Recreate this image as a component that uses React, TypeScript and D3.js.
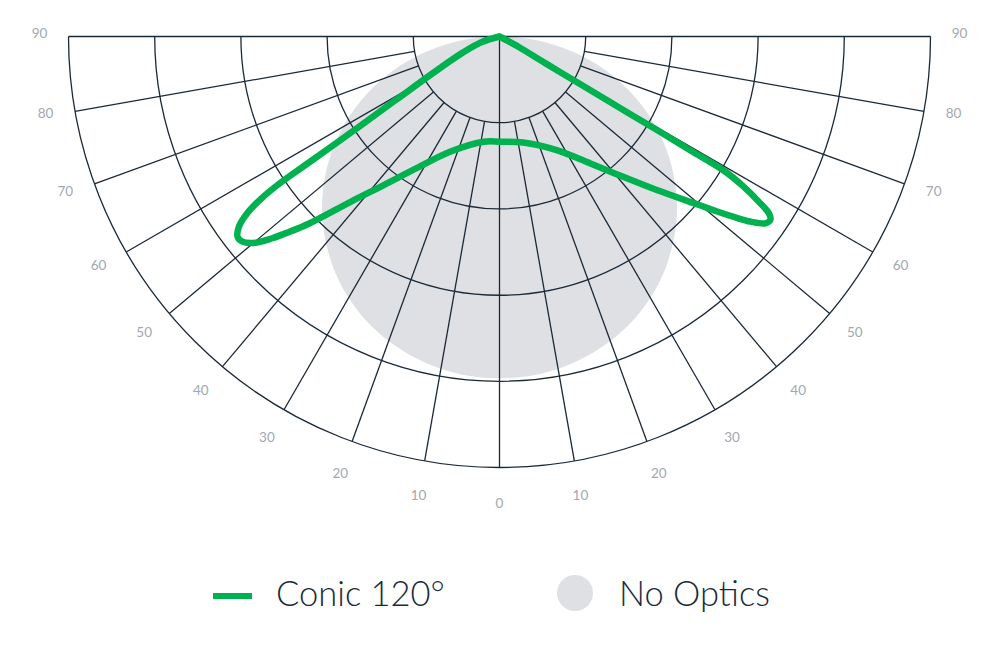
import React from 'react';
import * as d3 from 'd3';

// ---- data ----
const RING_VALUES = [20, 40, 60, 80, 100];
const SPOKE_ANGLES = [10, 20, 30, 40, 50, 60, 70, 80];
const LABEL_ANGLES = [0, 10, 20, 30, 40, 50, 60, 70, 80, 90];

// "No Optics" relative intensity (0..100 = outer ring), 0..90 deg, symmetric
const NO_OPTICS_ANGLES = [0, 5, 10, 15, 20, 25, 30, 35, 40, 45, 50, 55, 60, 65, 70, 75, 80, 85, 90];
const NO_OPTICS_VALUES = [79.3, 79.1, 78.3, 77.0, 75.2, 72.9, 70.0, 66.6, 62.6, 58.2, 53.2, 47.8, 41.9, 35.6, 29.0, 22.0, 14.8, 7.4, 0];

// "Conic 120°": signed angle (left negative) and relative intensity
const CONIC_ANGLES = [
  -90, -72.6, -66.3, -62.1, -58.5, -57.1, -56.5, -56.25, -55.8, -55.0, -53.9, -52.6, -51.4,
  -49.8, -48.4, -47.1, -45.5, -42.0, -37.9, -32.2, -23.0, -8.5, 0,
  12.6, 26.7, 35.5, 41.4, 45.7, 49.9, 51.2, 52.4, 53.6, 54.9, 55.9, 56.7, 57.5, 58.4, 59.1,
  59.2, 59.3, 59.3, 59.4, 59.6, 59.9, 61.5, 90,
];
const CONIC_VALUES = [
  0, 4.3, 9.3, 15.6, 28.3, 41.0, 53.7, 61.3, 66.6, 71.4, 74.8, 76.5, 76.3,
  74.1, 70.5, 66.6, 61.9, 51.6, 43.7, 36.1, 29.0, 24.7, 24.4,
  25.2, 29.5, 36.1, 43.4, 51.0, 60.8, 64.8, 68.6, 72.4, 75.4, 75.9, 74.8, 71.3, 66.5, 61.1,
  51.5, 42.4, 33.4, 24.4, 15.8, 10.9, 5.2, 0,
];

const LEGEND_LABELS = ['Conic 120°', 'No Optics'];

// ---- layout/style ----
const W = 1000;
const H = 650;
const CX = 499.5;
const CY = 36.5;
const R = 431;
const GRID = '#1b2937';
const GREEN = '#00b14f';
const GRAY = '#dee0e3';
const LABEL = '#a1a8af';
const TEXT = '#1b2a3b';

const rScale = d3.scaleLinear().domain([0, 100]).range([0, R]);
const rad = (deg: number) => (deg * Math.PI) / 180;
const polar = (deg: number, r: number): [number, number] => [
  CX + r * Math.sin(rad(deg)),
  CY + r * Math.cos(rad(deg)),
];

export default function App() {
  // No optics shape (mirrored)
  const noOptPts: [number, number][] = [];
  for (let i = NO_OPTICS_ANGLES.length - 1; i >= 0; i--) {
    noOptPts.push(polar(-NO_OPTICS_ANGLES[i], rScale(NO_OPTICS_VALUES[i])));
  }
  for (let i = 1; i < NO_OPTICS_ANGLES.length - 1; i++) {
    noOptPts.push(polar(NO_OPTICS_ANGLES[i], rScale(NO_OPTICS_VALUES[i])));
  }
  const noOptPath = d3.line().curve(d3.curveCatmullRomClosed.alpha(0.5))(noOptPts) || '';

  const conicPts: [number, number][] = CONIC_ANGLES.map((a, i) => polar(a, rScale(CONIC_VALUES[i])));
  const conicPath = d3.line().curve(d3.curveCatmullRom.alpha(0.5))(conicPts) || '';

  const rings = RING_VALUES.map((v) => {
    const p = d3.path();
    const r = rScale(v);
    p.arc(CX, CY, r, 0, Math.PI, false);
    return p.toString();
  });

  const innerR = rScale(RING_VALUES[0]);
  const spokes: { x1: number; y1: number; x2: number; y2: number }[] = [];
  SPOKE_ANGLES.forEach((a) => {
    [-1, 1].forEach((s) => {
      const [x1, y1] = polar(s * a, innerR);
      const [x2, y2] = polar(s * a, R);
      spokes.push({ x1, y1, x2, y2 });
    });
  });
  const [vx2, vy2] = polar(0, R);
  const [hx1, hy1] = polar(-90, R);
  const [hx2, hy2] = polar(90, R);

  const labels: { x: number; y: number; t: string }[] = [];
  LABEL_ANGLES.forEach((a) => {
    const sides = a === 0 ? [1] : [-1, 1];
    sides.forEach((s) => {
      const lr = 460 + 6 * Math.cos(rad(a));
      const [x, y] = polar(s * a, lr);
      labels.push({ x, y: y - 4 * Math.sin(rad(a)), t: String(a) });
    });
  });

  return (
    <svg
      width={W}
      height={H}
      viewBox={`0 0 ${W} ${H}`}
      style={{ position: 'absolute', left: 0, top: 0, display: 'block', background: '#fff' }}
    >
      <path d={noOptPath} fill={GRAY} />
      <g fill="none" stroke={GRID} strokeWidth={1.3}>
        {rings.map((d, i) => (
          <path key={i} d={d} />
        ))}
        {spokes.map((s, i) => (
          <line key={i} x1={s.x1} y1={s.y1} x2={s.x2} y2={s.y2} />
        ))}
        <line x1={CX} y1={CY} x2={vx2} y2={vy2} />
        <line x1={hx1} y1={hy1} x2={hx2} y2={hy2} />
      </g>
      <path
        d={conicPath}
        fill="none"
        stroke={GREEN}
        strokeWidth={6.5}
        strokeLinejoin="round"
        strokeLinecap="round"
      />
      <g fontFamily="Lato, 'Open Sans', sans-serif" fontWeight={400} fontSize={13.5} fill={LABEL}>
        {labels.map((l, i) => (
          <text key={i} x={l.x} y={l.y} textAnchor="middle" dominantBaseline="central">
            {l.t}
          </text>
        ))}
      </g>
      <g fontFamily="Lato, 'Open Sans', sans-serif" fontWeight={300} fontSize={34.5} fill={TEXT}>
        <line x1={213} y1={596} x2={252} y2={596} stroke={GREEN} strokeWidth={6} />
        <text x={276} y={606}>{LEGEND_LABELS[0]}</text>
        <circle cx={575} cy={593} r={18} fill={GRAY} />
        <text x={619} y={606}>{LEGEND_LABELS[1]}</text>
      </g>
    </svg>
  );
}
